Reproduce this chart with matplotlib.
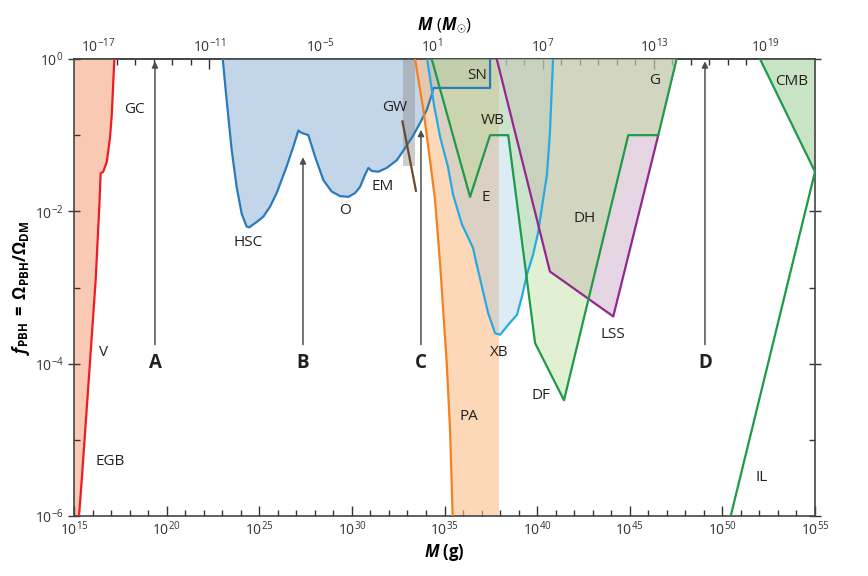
import numpy as np
import matplotlib
matplotlib.use('Agg')
import matplotlib.pyplot as plt
from matplotlib.ticker import FixedLocator, LogFormatterSciNotation, NullFormatter

plt.rcParams['font.family'] = ['Open Sans', 'DejaVu Sans']
plt.rcParams['mathtext.fontset'] = 'custom'
plt.rcParams['mathtext.rm'] = 'Open Sans'
plt.rcParams['mathtext.it'] = 'Open Sans:italic'
plt.rcParams['mathtext.bf'] = 'Open Sans:bold'
plt.rcParams['mathtext.bfit'] = 'Open Sans:italic:bold'

# all values are log10 (M in g, f_PBH)
red_lm = [15.27, 15.42, 15.86, 16.17, 16.37, 16.44, 16.58, 16.77, 16.94, 17.04, 17.12, 17.18]
red_lf = [-6.0, -5.52, -3.99, -2.90, -1.92, -1.50, -1.48, -1.35, -1.04, -0.73, -0.30, 0.0]

ml_lm = [23.03, 23.24, 23.51, 23.78, 24.05, 24.32, 24.46, 24.86, 25.22, 25.58, 25.94, 26.48,
         26.84, 27.11, 27.29, 27.65, 28.01, 28.46, 28.91, 29.36, 29.81, 30.17, 30.44, 30.71,
         30.89, 31.07, 31.43, 31.88, 32.42, 32.87, 33.32, 33.68, 34.04, 34.31, 34.40, 37.46, 37.46]
ml_lf = [0.0, -0.54, -1.19, -1.68, -2.03, -2.20, -2.21, -2.14, -2.07, -1.94, -1.76, -1.41,
         -1.15, -0.94, -0.97, -1.00, -1.28, -1.59, -1.74, -1.80, -1.81, -1.76, -1.68, -1.52,
         -1.43, -1.47, -1.48, -1.43, -1.33, -1.17, -1.00, -0.84, -0.67, -0.47, -0.38, -0.38, 0.0]

gw_band = (32.78, 33.41, -1.40)
gw_lm = [32.73, 33.46]
gw_lf = [-0.82, -1.73]

pa_lm = [33.41, 33.86, 34.22, 34.49, 34.76, 35.12, 35.30, 35.44]
pa_lf = [0.0, -0.67, -1.33, -1.85, -2.68, -3.99, -4.87, -6.0]
pa_edge = 37.94

xb_lm = [34.06, 34.22, 34.43, 34.76, 35.19, 35.46, 35.94, 36.54, 36.70, 37.02, 37.35, 37.73,
         38.00, 38.54, 38.91, 39.18, 39.45, 39.78, 40.05, 40.32, 40.53, 40.69, 40.86]
xb_lf = [0.0, -0.25, -0.60, -1.02, -1.42, -1.78, -2.17, -2.48, -2.66, -2.99, -3.33, -3.60,
         -3.62, -3.46, -3.36, -3.12, -2.83, -2.57, -2.28, -1.85, -1.52, -0.97, 0.0]

dyn_lm = [34.31, 36.38, 37.46, 38.44, 39.89, 41.45, 44.92, 46.54, 47.53]
dyn_lf = [0.0, -1.81, -1.00, -1.00, -3.73, -4.48, -1.00, -1.00, 0.0]

dh_lm = [37.82, 40.69, 44.11, 46.54]
dh_lf = [0.0, -2.79, -3.38, -1.00]

cmb_lm = [52.03, 55.0, 50.45]
cmb_lf = [0.0, -1.48, -6.0]

labels = {
    'GC': (18.24, -0.66), 'V': (16.62, -3.85), 'EGB': (16.94, -5.29), 'HSC': (24.39, -2.41),
    'O': (29.63, -1.99), 'EM': (31.68, -1.68), 'GW': (32.33, -0.64), 'SN': (36.75, -0.22),
    'WB': (37.62, -0.81), 'E': (37.24, -1.82), 'G': (46.36, -0.28), 'DH': (42.58, -2.09),
    'LSS': (44.10, -3.62), 'DF': (40.21, -4.42), 'XB': (37.94, -3.85), 'PA': (36.32, -4.70),
    'CMB': (53.76, -0.30), 'IL': (52.14, -5.50),
}
arrow_names = ['A', 'B', 'C', 'D']
arrow_lm = [19.37, 27.36, 33.73, 49.06]
arrow_top = [-0.03, -1.29, -0.93, -0.03]
arrow_base = -3.75

MSUN = 1.989e33


def p(a):
    return 10 ** np.asarray(a, dtype=float)


fig = plt.figure(figsize=(8.68, 5.76), dpi=100)
ax = fig.add_axes([74 / 868, 1 - 516 / 576, 741 / 868, 457 / 576])
ax.set_xscale('log')
ax.set_yscale('log')
ax.set_xlim(1e15, 1e55)
ax.set_ylim(1e-6, 1)

# red evaporation region
ax.fill(p([15.0] + red_lm + [15.0]), p([-6.0] + red_lf + [0.0]), color='#fac9b3', lw=0, zorder=1)

# microlensing
ax.fill(p(ml_lm), p(ml_lf), color='#c3d5e8', lw=0, zorder=1)

# GW band
ax.fill(p([gw_band[0], gw_band[1], gw_band[1], gw_band[0]]),
        p([0, 0, gw_band[2], gw_band[2]]), color='#8f8f8f', alpha=0.45, lw=0, zorder=2)

# PA
ax.fill(p(pa_lm + [pa_edge, pa_edge]), p(pa_lf + [-6.0, 0.0]),
        color='#fcbe8a', alpha=0.6, lw=0, zorder=2)

# XB
ax.fill(p(xb_lm), p(xb_lf), color='#8ac2e1', alpha=0.3, lw=0, zorder=3)

# DH / LSS
ax.fill(p(dh_lm + [47.53]), p(dh_lf + [0.0]), color='#cdadc7', alpha=0.5, lw=0, zorder=3)

# E / WB / DF / G
ax.fill(p(dyn_lm), p(dyn_lf), color='#b6da8f', alpha=0.4, lw=0, zorder=4)

# CMB
ax.fill(p(cmb_lm[:2] + [55.0]), p(cmb_lf[:2] + [0.0]), color='#c9e4c4', lw=0, zorder=2)

ax.plot(p(red_lm), p(red_lf), color='#ed1c24', lw=1.6, zorder=6)
ax.plot(p(ml_lm), p(ml_lf), color='#2b7bba', lw=1.6, zorder=6)
ax.plot(p(gw_lm), p(gw_lf), color='#6b4a2b', lw=1.6, zorder=6)
ax.plot(p(pa_lm), p(pa_lf), color='#f7801e', lw=1.6, zorder=6)
ax.plot(p(xb_lm), p(xb_lf), color='#27aae1', lw=1.6, zorder=6)
ax.plot(p(dh_lm), p(dh_lf), color='#93278f', lw=1.6, zorder=6)
ax.plot(p(dyn_lm), p(dyn_lf), color='#1e9a48', lw=1.6, zorder=7)
ax.plot(p(cmb_lm), p(cmb_lf), color='#1e9a48', lw=1.6, zorder=7)

for name, x, top in zip(arrow_names, arrow_lm, arrow_top):
    ax.annotate('', xy=(10 ** x, 10 ** top), xytext=(10 ** x, 10 ** arrow_base),
                arrowprops=dict(arrowstyle='-|>', color='#4d4d4d', lw=1.1,
                                mutation_scale=9, shrinkA=0, shrinkB=0), zorder=8)
    ax.text(10 ** x, 10 ** -3.99, name, ha='center', va='center', fontsize=13.5,
            fontweight='bold', color='#231f20', zorder=9)

for name, (x, y) in labels.items():
    ax.text(10 ** x, 10 ** y, name, ha='center', va='center', fontsize=11,
            color='#231f20', zorder=9)

fmt = LogFormatterSciNotation()
ax.xaxis.set_major_locator(FixedLocator(p(np.arange(15, 56, 5))))
ax.xaxis.set_minor_locator(FixedLocator(p([d for d in range(15, 56) if d % 5])))
ax.xaxis.set_major_formatter(fmt)
ax.xaxis.set_minor_formatter(NullFormatter())
ax.yaxis.set_major_locator(FixedLocator(p([-6, -4, -2, 0])))
ax.yaxis.set_minor_locator(FixedLocator(p([-5, -3, -1])))
ax.yaxis.set_major_formatter(LogFormatterSciNotation())
ax.yaxis.set_minor_formatter(NullFormatter())
ax.tick_params(which='both', direction='in', top=False, right=True, colors='#333333',
               labelsize=10, width=1.0)
ax.tick_params(which='major', length=7, pad=3)
ax.tick_params(which='minor', length=4)
ax.tick_params(axis='y', which='major', direction='inout', length=9)
for s in ax.spines.values():
    s.set_color('#444444')
    s.set_linewidth(1.2)

secax = ax.secondary_xaxis('top', functions=(lambda m: m / MSUN, lambda m: m * MSUN))
secax.set_xscale('log')
secax.xaxis.set_major_locator(FixedLocator(p(np.arange(-17, 20, 6))))
secax.xaxis.set_minor_locator(FixedLocator(p([d for d in range(-18, 22) if (d + 17) % 6])))
secax.xaxis.set_major_formatter(LogFormatterSciNotation())
secax.xaxis.set_minor_formatter(NullFormatter())
secax.tick_params(which='both', direction='in', colors='#333333', labelsize=10, width=1.0)
secax.tick_params(which='major', length=7, pad=2)
secax.tick_params(which='minor', length=4)
secax.spines['top'].set_color('#444444')
secax.spines['top'].set_linewidth(1.2)

ax.set_xlabel(r'$\mathbfit{M}$' + ' (g)', fontsize=12, fontweight='bold', labelpad=2)
secax.set_xlabel(r'$\mathbfit{M}\ (\mathbfit{M}_{\odot})$', fontsize=12, labelpad=6)
ax.set_ylabel(r'$\mathbfit{f}_{\mathbf{PBH}}\;\mathbf{=}\;\mathbf{\Omega_{PBH}/\Omega_{DM}}$',
              fontsize=12, labelpad=2)

fig.savefig('out.png', dpi=100)
